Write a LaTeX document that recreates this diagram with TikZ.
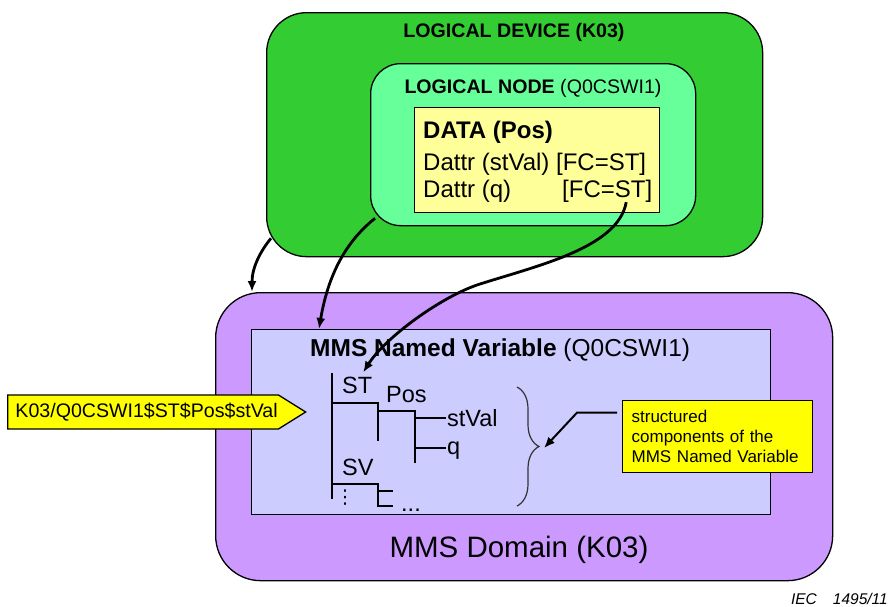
\documentclass[tikz,border=0pt]{standalone}
\usepackage{fontspec}
\setmainfont{Liberation Sans}
\newfontfamily\dejavu{DejaVu Sans}
\usetikzlibrary{positioning, arrows.meta, shapes.arrows, decorations.pathreplacing}
\definecolor{GreenA}{HTML}{33CC33}
\definecolor{GreenB}{HTML}{66FF99}
\definecolor{YellowA}{HTML}{FFFF00}
\definecolor{YellowB}{HTML}{FFFF99}
\definecolor{VioletA}{HTML}{CC99FF}
\definecolor{VioletB}{HTML}{CCCCFF}
\tikzset{
  box/.style={draw, line width=1.3pt, anchor=north west, inner sep=0pt},
  ld/.style={box, fill=GreenA, rounded corners=40pt},
  ln/.style={box, fill=GreenB, rounded corners=30pt},
  dat/.style={box, fill=YellowB},
  dom/.style={box, fill=VioletA, rounded corners=45pt},
  nv/.style={box, fill=VioletB},
  hdr/.style={inner sep=0pt, font=\fontsize{19.6pt}{23pt}\selectfont},
  big/.style={inner sep=0pt, anchor=base west, font=\fontsize{24pt}{28pt}\selectfont},
  treetxt/.style={inner sep=0pt, anchor=base west, font=\fontsize{23.5pt}{28pt}\selectfont},
  callout/.style={box, fill=YellowA, align=left, text width=172pt, minimum height=72pt, inner xsep=9pt, font=\fontsize{17pt}{20pt}\selectfont},
  tag/.style={draw, line width=1.3pt, fill=YellowA, single arrow, single arrow head extend=0pt, single arrow tip angle=64, minimum height=298pt, minimum width=34pt, inner xsep=0pt, inner ysep=2pt, anchor=tail, font=\fontsize{19.6pt}{23pt}\selectfont},
  arr/.style={-{Latex[length=11pt,width=9pt]}, line width=2.8pt},
  thinarr/.style={-{Latex[length=11pt,width=9pt]}, line width=2pt},
  tree/.style={line width=2.8pt},
  brace/.style={decorate, decoration={brace, amplitude=22pt}, line width=1.2pt, draw=black!80}
}
\begin{document}
\begin{tikzpicture}[x=1pt, y=-1pt]
  \useasboundingbox (0,0) rectangle (893,606);

  % logical device side
  \node[ld, minimum width=496pt, minimum height=244pt] (ldev) at (266,12) {};
  \node[ln, minimum width=325pt, minimum height=162pt] (lnode) at (370,63) {};
  \node[dat, minimum width=245pt, minimum height=105pt] (data) at (414,107) {};
  \node[hdr, font=\fontsize{19.6pt}{23pt}\selectfont\bfseries] (ld-title) at (514,32) {LOGICAL DEVICE (K03)};
  \node[hdr] (ln-title) at (533,88) {\textbf{LOGICAL NODE} (Q0CSWI1)};
  \node[big] (data-title) at (423,138) {\textbf{DATA (Pos)}};
  \node[big] (stval-attr) at (423,170) {Dattr (stVal) [FC=ST]};
  \node[big] (q-attr) at (423,197) {Dattr (q)};
  \node[big] (fcq) at (562,197) {[FC=ST]};

  % MMS side
  \node[dom, minimum width=617pt, minimum height=288pt] (dom) at (215,292) {};
  \node[nv, minimum width=519pt, minimum height=185pt] (nv) at (251,329) {};
  \node[big, font=\fontsize{24.5pt}{28pt}\selectfont] (nv-title) at (310,356) {\textbf{MMS Named Variable} (Q0CSWI1)};
  \node[inner sep=0pt, anchor=base, font=\fontsize{29.5pt}{34pt}\selectfont] (dom-title) at (519,557) {MMS Domain (K03)};

  % structure tree
  \node[treetxt] (st) at (342,393) {ST};
  \node[treetxt] (pos) at (386,402) {Pos};
  \node[treetxt] (stval) at (447,426) {stVal};
  \node[treetxt] (q) at (447,454) {q};
  \node[treetxt] (sv) at (342,475) {SV};
  \node[inner sep=0pt, font=\fontsize{19pt}{19pt}\dejavu] (vdots) at (345,498) {⋮};
  \node[treetxt] (more) at (401,511) {...};
  \draw[tree] (332,373) -- (332,499);
  \draw[tree] (332,403) -| (378,441);
  \draw[tree] (378,411) -| (415,463);
  \draw[tree] (415,418) -- (446,418);
  \draw[tree] (415,448) -- (446,448);
  \draw[tree] (332,484) -| (378,506) -- (393,506);
  \draw[tree] (378,491) -- (393,491);

  \draw[brace] (517,387) -- (517,506);
  \coordinate (brace-tip) at (544,448);
  \node[callout, minimum width=190pt] (note) at (622,400) {structured\\components of the\\MMS Named Variable};
  \draw[thinarr] ([xshift=-5pt,yshift=24pt]note.west) -- ++(-40,0) -- (brace-tip);

  \node[tag] (tag) at (7,412) {\hspace*{7pt}K03/Q0CSWI1\$ST\$Pos\$stVal};

  % mappings
  \coordinate (ld-out) at ([shift={(5,-19)}]ldev.south west);
  \coordinate (ln-out) at ([shift={(5,-8)}]lnode.south west);
  \draw[arr] (ld-out) .. controls +(-10,12) and +(0,-25) .. ([xshift=37pt]dom.north west);
  \draw[arr] (ln-out) .. controls +(-25,20) and +(10,-60) .. ([xshift=68pt]nv.north west);
  \draw[arr] ([xshift=19pt]fcq.south) .. controls +(-8,45) and +(60,-19) .. (480,284)
    .. controls +(-38,12) and +(22,-35) .. ([xshift=6pt,yshift=4pt]st.north);

  \node[inner sep=0pt, anchor=base east, font=\fontsize{15.5pt}{17pt}\selectfont\itshape] (iec) at (888,604) {IEC\hspace{16pt}1495/11};
\end{tikzpicture}
\end{document}
